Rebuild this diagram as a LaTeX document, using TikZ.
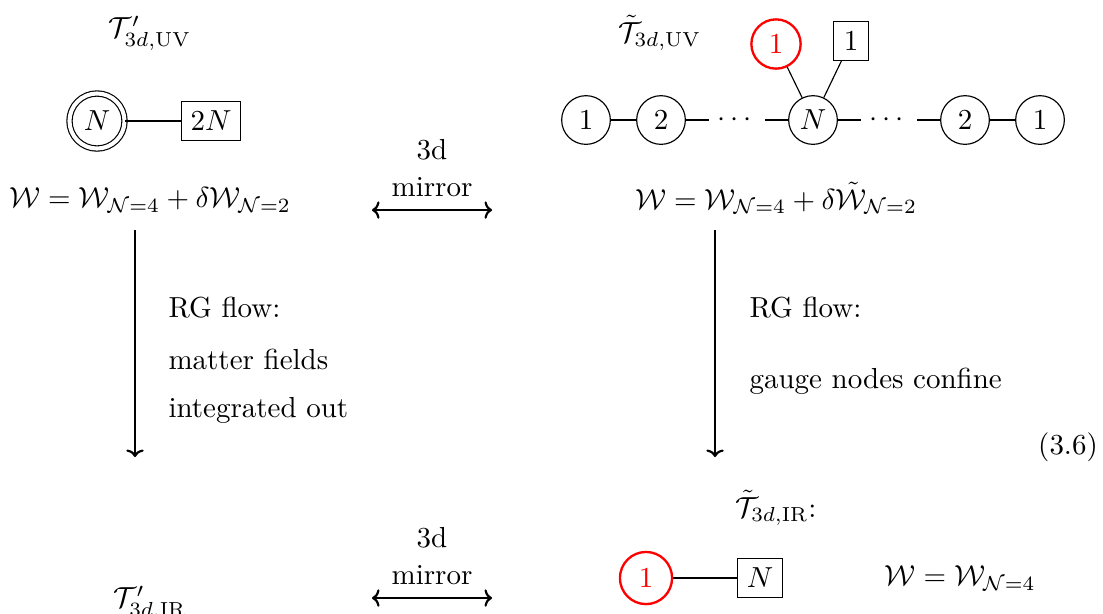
\documentclass[tikz,border=0pt]{standalone}
\usepackage{amsmath}
\usetikzlibrary{arrows.meta}
\begin{document}
\begin{tikzpicture}[x=0.345pt,y=-0.345pt,
  gauge/.style={circle,draw,thin,minimum size=16.8pt,inner sep=0pt},
  redgauge/.style={circle,draw=red,thick,text=red,minimum size=17pt,inner sep=0pt},
  flavor/.style={rectangle,draw,thin,inner sep=2pt,minimum height=13.5pt},
  dotsnode/.style={inner sep=0pt,minimum width=19pt},
  link/.style={thin},
  flow/.style={line width=0.75pt,-{To[width=6pt,length=2.6pt]}},
  mirrorarrow/.style={line width=0.75pt,{To[width=6pt,length=2.6pt]}-{To[width=6pt,length=2.6pt]}},
  lbl/.style={inner sep=0pt}]
\useasboundingbox (0,0) rectangle (1103,613);
% top left
\node[lbl] (TUV) at (150,33) {$\mathcal{T}'_{3d,\mathrm{UV}}$};
\node[gauge,double,double distance=1.4pt,minimum size=19pt] (dN) at (97,121) {$N$};
\node[flavor,minimum width=20.5pt] (f2N) at (211,121) {$2N$};
\draw[link] (dN) -- (f2N);
\node[lbl] (WL) at (150,200) {$\mathcal{W}=\mathcal{W}_{\mathcal{N}=4}+\delta\mathcal{W}_{\mathcal{N}=2}$};
% mirror top
\node[lbl] (m3a) at (432,150) {3d};
\node[lbl] (m3b) at (432,187) {mirror};
\coordinate (ma1) at (372,210);
\coordinate (ma2) at (492,210);
\draw[mirrorarrow] (ma1) -- (ma2);
% top right
\node[lbl] (TtUV) at (660,33) {$\tilde{\mathcal{T}}_{3d,\mathrm{UV}}$};
\node[gauge] (c1) at (586,120) {$1$};
\node[gauge] (c2) at (661,120) {$2$};
\node[dotsnode] (d1) at (737,120) {$\cdots$};
\node[gauge] (cN) at (813,120) {$N$};
\node[dotsnode] (d2) at (889,120) {$\cdots$};
\node[gauge] (c3) at (965,120) {$2$};
\node[gauge] (c4) at (1040,120) {$1$};
\node[redgauge] (r1) at (776,44) {$1$};
\node[flavor,minimum width=12pt] (f1) at (851,41) {$1$};
\draw[link] (c1) -- (c2) -- (d1) -- (cN) -- (d2) -- (c3) -- (c4);
\draw[link] (cN) -- (r1);
\draw[link] (cN) -- (f1);
\node[lbl] (WR) at (776,198) {$\mathcal{W}=\mathcal{W}_{\mathcal{N}=4}+\delta\tilde{\mathcal{W}}_{\mathcal{N}=2}$};
% RG flows
\coordinate (la1) at (135,230);
\coordinate (la2) at (135,457);
\draw[flow] (la1) -- (la2);
\node[lbl,anchor=west] (rg1) at (168,308) {RG flow:};
\node[lbl,anchor=west] (rg2) at (168,359) {matter fields};
\node[lbl,anchor=west] (rg3) at (168,410) {integrated out};
\coordinate (ra1) at (715,230);
\coordinate (ra2) at (715,457);
\draw[flow] (ra1) -- (ra2);
\node[lbl,anchor=west] (rg4) at (749,308) {RG flow:};
\node[lbl,anchor=west] (rg5) at (749,381) {gauge nodes confine};
\node[lbl] (eqn) at (1068,447) {(3.6)};
% bottom
\node[lbl] (TtIR) at (776,508) {$\tilde{\mathcal{T}}_{3d,\mathrm{IR}}$:};
\node[lbl] (m3c) at (432,538) {3d};
\node[lbl] (m3d) at (432,575) {mirror};
\coordinate (mb1) at (372,598);
\coordinate (mb2) at (492,598);
\draw[mirrorarrow] (mb1) -- (mb2);
\node[lbl] (TIR) at (150,603) {$\mathcal{T}'_{3d,\mathrm{IR}}$};
\node[redgauge,minimum size=18pt] (r2) at (646,578) {$1$};
\node[flavor,minimum width=15.5pt] (fN) at (760,578) {$N$};
\draw[link] (r2) -- (fN);
\node[lbl] (WIR) at (960,578) {$\mathcal{W}=\mathcal{W}_{\mathcal{N}=4}$};
\end{tikzpicture}
\end{document}
